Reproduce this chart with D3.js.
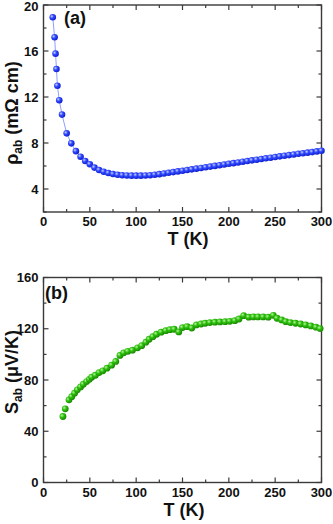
<!DOCTYPE html>
<html><head><meta charset="utf-8">
<script src="https://cdn.jsdelivr.net/npm/d3@7"></script>
<style>body{margin:0;background:#fff;}svg{display:block;font-family:"Liberation Sans",Arial,sans-serif;}</style>
</head><body><svg id="c" width="333" height="524"></svg>
<script>
// Panel (a): resistivity rho_ab (mOhm cm) vs T (K)
const tempA = [10,12,13,14,15,17,20,25,30,35,40,45,50,55,60,65,70,75,80,85,90,95,100,105,110,115,120,125,130,135,140,145,150,155,160,165,170,175,180,185,190,195,200,205,210,215,220,225,230,235,240,245,250,255,260,265,270,275,280,285,290,295,300];
const rhoA = [18.93,17.19,15.77,14.43,12.98,11.72,10.47,8.84,7.97,7.29,6.81,6.44,6.15,5.86,5.65,5.50,5.39,5.30,5.24,5.20,5.18,5.16,5.16,5.16,5.18,5.20,5.24,5.29,5.35,5.41,5.47,5.53,5.59,5.65,5.71,5.77,5.83,5.89,5.95,6.01,6.07,6.13,6.19,6.25,6.31,6.37,6.43,6.49,6.55,6.61,6.67,6.72,6.78,6.84,6.89,6.95,7.00,7.06,7.11,7.16,7.21,7.27,7.32];
// Panel (b): thermopower S_ab (uV/K) vs T (K)
const tempB = [21,23.5,27.5,30.5,33.5,36.5,40,43,46.5,49.5,52,56,60,64,68.5,73.5,78,82.5,86.5,91,96,101.5,106,110.5,114,118,122,127,132,136.5,141,146,150,155,160,165,170,174.5,179.5,185,190.5,196,201,206.5,211,216,221.5,226.5,231.5,237,242.5,248,252,257,261.5,266.5,272,277.5,283,288.5,294,298.5];
const seebB = [51.5,57.5,64.5,67,69.7,72.3,74.6,76.7,78.8,80.5,82.2,83.7,85.8,87.2,89.2,91.6,94.5,99.2,101.2,102.4,103.3,105.1,106.8,109.5,111.8,113.8,115.7,117.3,118.5,119.3,119.6,117.5,120.9,121.6,120.6,123,123.7,124.3,124.8,125.1,125.3,125.5,125.8,126.3,127.6,130.2,129,129.2,129.2,129.2,129,130.5,128.2,126.9,125.5,124.8,124.3,123.7,123,122.2,121.2,120.1];
const xTicks = [0,50,100,150,200,250,300];
const xMinor = [25,75,125,175,225,275];
const yTicksA = [4,8,12,16,20];
const yMinorA = [2,6,10,14,18];
const yTicksB = [0,40,80,120,160];
const yMinorB = [20,60,100,140];

const svg = d3.select("#c");
const defs = svg.append("defs");
function grad(id, light, mid, dark){
  const g = defs.append("radialGradient").attr("id",id).attr("cx","35%").attr("cy","35%").attr("r","65%");
  g.append("stop").attr("offset","0%").attr("stop-color",light);
  g.append("stop").attr("offset","45%").attr("stop-color",mid);
  g.append("stop").attr("offset","100%").attr("stop-color",dark);
}
grad("gBlue","#c8d0ff","#3048ff","#1020d0");
grad("gGreen","#b8f5a0","#2ec10e","#198a00");

function panel(opt){
  const x = d3.scaleLinear().domain([0,300]).range([opt.left,opt.right]);
  const y = d3.scaleLinear().domain(opt.ydom).range([opt.bottom,opt.top]);
  const g = svg.append("g");
  const axisCol = "#3a3a3a";
  g.append("rect").attr("x",opt.left).attr("y",opt.top).attr("width",opt.right-opt.left).attr("height",opt.bottom-opt.top)
    .attr("fill","none").attr("stroke",axisCol).attr("stroke-width",1.4);
  const tk = (arr,len,fn)=>arr.forEach(v=>fn(v,len));
  const L=5, M=3;
  const bx=(v,len)=>{g.append("line").attr("x1",x(v)).attr("x2",x(v)).attr("y1",opt.bottom).attr("y2",opt.bottom-len).attr("stroke",axisCol).attr("stroke-width",1.2);
                    g.append("line").attr("x1",x(v)).attr("x2",x(v)).attr("y1",opt.top).attr("y2",opt.top+len).attr("stroke",axisCol).attr("stroke-width",1.2);};
  const by=(v,len)=>{g.append("line").attr("y1",y(v)).attr("y2",y(v)).attr("x1",opt.left).attr("x2",opt.left+len).attr("stroke",axisCol).attr("stroke-width",1.2);
                    g.append("line").attr("y1",y(v)).attr("y2",y(v)).attr("x1",opt.right).attr("x2",opt.right-len).attr("stroke",axisCol).attr("stroke-width",1.2);};
  tk(xTicks,L,bx); tk(xMinor,M,bx); tk(opt.yt,L,by); tk(opt.ym,M,by);
  xTicks.forEach(v=>g.append("text").attr("x",x(v)).attr("y",opt.bottom+14).attr("text-anchor","middle")
    .attr("font-size",13).attr("font-weight","bold").attr("fill","#111").text(v));
  opt.yt.forEach(v=>g.append("text").attr("x",opt.left-5).attr("y",Math.max(y(v)+4.5,11)).attr("text-anchor","end")
    .attr("font-size",13).attr("font-weight","bold").attr("fill","#111").text(v));
  g.append("text").attr("x",opt.xtx).attr("y",opt.bottom+33).attr("text-anchor","middle")
    .attr("font-size",18).attr("font-weight","bold").attr("fill","#111").text("T (K)");
  const yt = g.append("text").attr("transform",`translate(18,${opt.ytc}) rotate(-90)`).attr("text-anchor","middle")
    .attr("font-size",18).attr("font-weight","bold").attr("fill","#111");
  yt.append("tspan").text(opt.ysym);
  yt.append("tspan").attr("font-size",12).attr("dy",4).text("ab");
  yt.append("tspan").attr("dy",-4).text(" " + opt.yunit);
  g.append("text").attr("x",opt.lx).attr("y",opt.ly).attr("font-size",18).attr("font-weight","bold").attr("fill","#111").text(opt.label);
  const pts = opt.xs.map((t,i)=>[t,opt.ys[i]]);
  if(opt.line){
    g.append("path").datum(pts).attr("d",d3.line().x(d=>x(d[0])).y(d=>y(d[1])))
      .attr("fill","none").attr("stroke","#8fa0ff").attr("stroke-width",1);
  }
  g.selectAll("circle.p").data(pts).enter().append("circle")
    .attr("cx",d=>x(d[0])).attr("cy",d=>y(d[1])).attr("r",opt.r).attr("fill",opt.fill);
}

panel({left:43.5,right:321.5,top:5,bottom:212,ydom:[2,20],yt:yTicksA,ym:yMinorA,xs:tempA,ys:rhoA,
  fill:"url(#gBlue)",r:3.3,line:true,label:"(a)",lx:64,ly:24,xtx:188,ytc:113,ysym:"ρ",yunit:"(mΩ cm)"});
panel({left:43.5,right:321.5,top:277.5,bottom:482.5,ydom:[0,160],yt:yTicksB,ym:yMinorB,xs:tempB,ys:seebB,
  fill:"url(#gGreen)",r:3.4,line:false,label:"(b)",lx:45,ly:299,xtx:184,ytc:372,ysym:"S",yunit:"(μV/K)"});
</script></body></html>
